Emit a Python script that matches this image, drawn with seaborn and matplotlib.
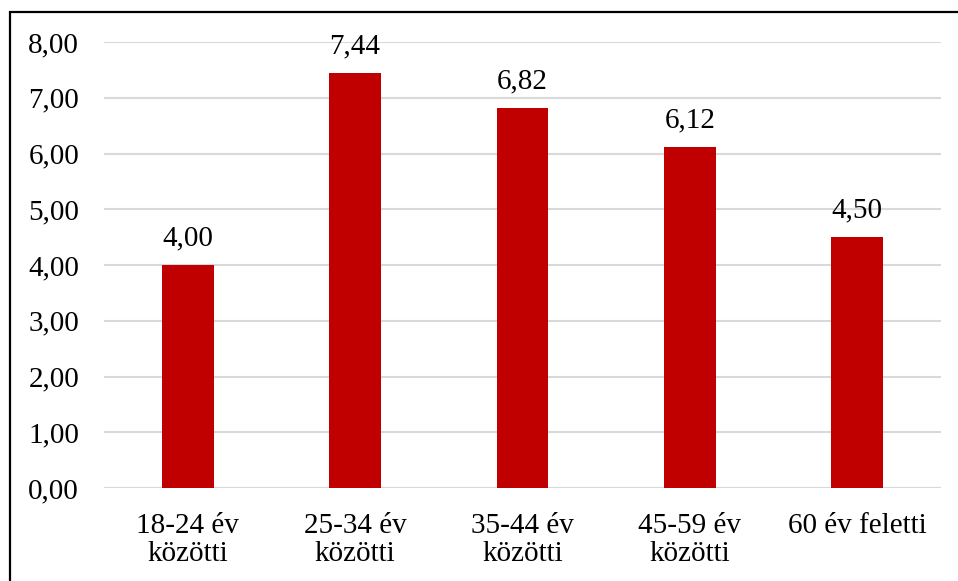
import matplotlib
matplotlib.use("Agg")
import matplotlib.pyplot as plt
from matplotlib.patches import Rectangle
from matplotlib.ticker import FuncFormatter, MultipleLocator
import seaborn as sns
import pandas as pd

categories = ["18-24 év\nközötti", "25-34 év\nközötti", "35-44 év\nközötti",
              "45-59 év\nközötti", "60 év feletti"]
values = [4.00, 7.44, 6.82, 6.12, 4.50]

W, H = 958, 581
sns.set_theme(style="white")
plt.rcParams["font.family"] = ["Liberation Serif", "DejaVu Serif"]
plt.rcParams["font.size"] = 21

fig = plt.figure(figsize=(W / 100, H / 100), dpi=100)
ax = fig.add_axes([104 / W, 1 - 488 / H, (941 - 104) / W, (488 - 42) / H])

df = pd.DataFrame({"kat": categories, "ertek": values})
sns.barplot(data=df, x="kat", y="ertek", color="#C00000", saturation=1,
            width=0.31, linewidth=0, ax=ax, zorder=3)

ax.set_ylim(0, 8)
ax.set_xlim(-0.5, len(categories) - 0.5)
ax.yaxis.set_major_locator(MultipleLocator(1))
ax.yaxis.set_major_formatter(FuncFormatter(lambda v, _: f"{v:.2f}".replace(".", ",")))
ax.grid(axis="y", color="#D9D9D9", linewidth=1.5, zorder=0)
ax.grid(axis="x", visible=False)
for s in ax.spines.values():
    s.set_visible(False)
ax.axhline(0, color="#D9D9D9", linewidth=1.5, zorder=2)
ax.set_xlabel("")
ax.set_ylabel("")
ax.tick_params(axis="y", length=0, pad=18, labelsize=21, labelcolor="black")
ax.tick_params(axis="x", length=0, pad=18, labelsize=21, labelcolor="black")
for lbl in ax.get_xticklabels():
    lbl.set_linespacing(1.08)

for i, v in enumerate(values):
    ax.annotate(f"{v:.2f}".replace(".", ","), (i, v), xytext=(0, 10),
                textcoords="offset points", ha="center", va="bottom",
                fontsize=21, color="black")

# outer frame
fig.patches.append(Rectangle((9.5 / W, -0.2), 1.2, 1.2 - 12 / H,
                             transform=fig.transFigure, fill=False,
                             edgecolor="black", linewidth=1.6, zorder=10))

fig.savefig("out.png", dpi=100, facecolor="white")
